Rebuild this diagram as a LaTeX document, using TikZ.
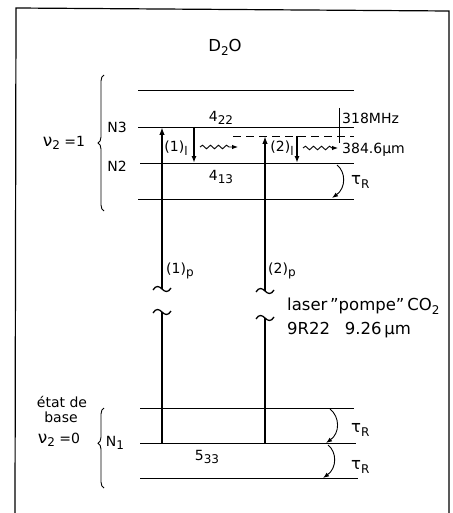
\documentclass[tikz,border=0pt]{standalone}
\usepackage{fontspec}
\setmainfont{DejaVu Sans}
\usetikzlibrary{arrows.meta,decorations.pathmorphing,decorations.pathreplacing}
\newcommand\lw[1]{\raisebox{-0.45ex}{\fontsize{12}{12}\selectfont #1}}
\begin{document}
\begin{tikzpicture}[x=1pt,y=-1pt,
  lvl/.style={line width=0.9pt},
  pump/.style={line width=2.3pt,-{Latex[length=8pt,width=5.5pt]}},
  pumpseg/.style={line width=2.3pt},
  emis/.style={line width=2pt,-{Latex[length=7pt,width=5pt]}},
  wavy/.style={line width=0.9pt,decorate,decoration={snake,amplitude=1.8pt,segment length=8pt,post length=6pt},-{Latex[length=6pt,width=4.5pt]}},
  relax/.style={line width=0.9pt,-{Latex[length=6pt,width=4.5pt]}},
  brc/.style={line width=0.9pt,decorate,decoration={brace,amplitude=6pt}},
  txt/.style={inner sep=0pt,font=\fontsize{14}{16}\selectfont},
  bigtxt/.style={inner sep=0pt,font=\fontsize{16.5}{18}\selectfont},
  tld/.pic={\draw[line width=1.3pt] (-9,1) .. controls (-6,-4) and (-3,-3) .. (0,0) .. controls (3,3) and (6,4) .. (9,-1);}]
\useasboundingbox (0,0) rectangle (452,513);
% frame
\draw[line width=1.2pt] (15,513) -- (16,8) -- (449,11) -- (449,513);
% title
\node[bigtxt] (title) at (225,47) {D\lw{2}O};
% upper levels
\coordinate (t1) at (138,90);  \coordinate (t2) at (354,90);
\coordinate (n3a) at (138,127); \coordinate (n3b) at (354,127);
\coordinate (da) at (233,136); \coordinate (db) at (354,136);
\coordinate (n2a) at (140,163); \coordinate (n2b) at (354,163);
\coordinate (b1) at (138,199); \coordinate (b2) at (354,199);
\draw[lvl] (t1) -- (t2);
\draw[lvl] (n3a) -- (n3b);
\draw[lvl,dash pattern=on 8pt off 5pt] (da) -- (db);
\draw[lvl] (n2a) -- (n2b);
\draw[lvl] (b1) -- (b2);
% lower levels
\coordinate (g1a) at (140,408); \coordinate (g1b) at (354,408);
\coordinate (n1a) at (140,443); \coordinate (n1b) at (356,443);
\coordinate (g3a) at (140,478); \coordinate (g3b) at (358,478);
\draw[lvl] (g1a) -- (g1b);
\draw[lvl] (n1a) -- (n1b);
\draw[lvl] (g3a) -- (g3b);
% level labels
\node[txt] (l422) at (221,118) {4\lw{22}};
\node[txt] (l413) at (221,177) {4\lw{13}};
\node[txt] (l533) at (207,457) {5\lw{33}};
\node[txt] (N3) at (117,127) {N3};
\node[txt] (N2) at (117,166) {N2};
\node[txt] (N1) at (115,443) {N\lw{1}};
% braces
\draw[brc] (104,211) -- (104,75) coordinate (brU);
\node[txt] (nu1) at (64,143) {{\fontsize{17}{17}\selectfont ν}\lw{2} =1};
\draw[brc,decoration={aspect=0.56}] (104,488) -- (104,408) coordinate (brL);
\node[txt] (etat) at (62,402) {état de};
\node[txt] (base) at (61,417) {base};
\node[txt] (nu0) at (59,440) {{\fontsize{17}{17}\selectfont ν}\lw{2} =0};
% pump arrow (1)
\coordinate (p1s) at (162,443); \coordinate (p1m) at (162,312);
\coordinate (p1n) at (162,289); \coordinate (p1e) at (162,127);
\draw[pumpseg] (p1s) -- (p1m);
\draw[pump] (p1n) -- (p1e);
\pic at (p1m) {tld};
\pic at (p1n) {tld};
\node[txt,anchor=west] (p1lab) at (166,271) {(1)\lw{p}};
% pump arrow (2)
\coordinate (p2s) at (265,443); \coordinate (p2m) at (265,318);
\coordinate (p2n) at (265,291); \coordinate (p2e) at (265,136);
\draw[pumpseg] (p2s) -- (p2m);
\draw[pump] (p2n) -- (p2e);
\pic at (p2m) {tld};
\pic at (p2n) {tld};
\node[txt,anchor=west] (p2lab) at (268,271) {(2)\lw{p}};
\node[bigtxt,anchor=west] (las1) at (287,306) {laser\,"pompe"\,CO\lw{2}};
\node[bigtxt,anchor=west] (las2) at (287,330) {9R22\hspace{0.9em}9.26\,μm};
% emission (1)
\coordinate (e1a) at (194,127); \coordinate (e1b) at (194,163);
\draw[emis] (e1a) -- (e1b);
\node[txt] (e1lab) at (176,148) {(1)\lw{l}};
\coordinate (w1a) at (200,147); \coordinate (w1b) at (238,147);
\draw[wavy] (w1a) -- (w1b);
% emission (2)
\coordinate (e2a) at (297,136); \coordinate (e2b) at (297,163);
\draw[emis] (e2a) -- (e2b);
\node[txt] (e2lab) at (282,148) {(2)\lw{l}};
\coordinate (w2a) at (303,148); \coordinate (w2b) at (338,148);
\draw[wavy] (w2a) -- (w2b);
% 318 MHz tick
\coordinate (tk1) at (339,108); \coordinate (tk2) at (339,143);
\draw[lvl] (tk1) -- (tk2);
\node[txt,anchor=west] (mhz) at (342,118) {318MHz};
\node[txt,anchor=west] (lam) at (342,150) {384.6μm};
% relaxation arrows
\coordinate (r1a) at (337,165); \coordinate (r1b) at (332,198);
\draw[relax] (r1a) .. controls (346,172) and (346,188) .. (r1b);
\node[bigtxt,anchor=west] (tau1) at (351,182) {τ\lw{R}};
\coordinate (r2a) at (330,409); \coordinate (r2b) at (326,443);
\draw[relax] (r2a) .. controls (340,417) and (340,433) .. (r2b);
\node[bigtxt,anchor=west] (tau2) at (351,430) {τ\lw{R}};
\coordinate (r3a) at (328,445); \coordinate (r3b) at (323,478);
\draw[relax] (r3a) .. controls (337,452) and (337,468) .. (r3b);
\node[bigtxt,anchor=west] (tau3) at (351,467) {τ\lw{R}};
\end{tikzpicture}
\end{document}
